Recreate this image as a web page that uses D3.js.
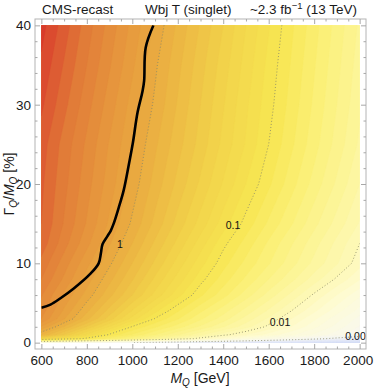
<!DOCTYPE html>
<html>
<head>
<meta charset="utf-8">
<script src="https://cdn.jsdelivr.net/npm/d3@7"></script>
<style>
  body { margin: 0; background: #fff; }
  text { font-family: "Liberation Sans", Arial, sans-serif; }
</style>
</head>
<body>
<div id="chart"></div>
<script>
const massGrid = [600, 700, 800, 900, 1000, 1100, 1200, 1300, 1400, 1500, 1600, 1700, 1800, 1900, 2000];
const widthGrid = [0, 0.5, 1, 2, 3, 4, 6, 8, 10, 12.5, 15, 20, 25, 30, 35, 40];
const logRatio = [
    [-2.60, -2.70, -2.80, -2.90, -3.00, -3.10, -3.20, -3.30, -3.40, -3.50, -3.60, -3.70, -3.80, -3.90, -4.00],
    [-0.64, -0.84, -1.05, -1.25, -1.46, -1.66, -1.87, -2.06, -2.23, -2.40, -2.57, -2.74, -2.91, -3.08, -3.25],
    [-0.10, -0.41, -0.72, -1.02, -1.21, -1.40, -1.59, -1.78, -1.96, -2.10, -2.24, -2.38, -2.52, -2.66, -2.80],
    [ 0.19, -0.11, -0.41, -0.71, -1.01, -1.18, -1.35, -1.52, -1.69, -1.86, -2.03, -2.20, -2.37, -2.54, -2.71],
    [ 0.40,  0.11, -0.17, -0.45, -0.74, -1.01, -1.19, -1.38, -1.55, -1.74, -1.92, -2.10, -2.28, -2.46, -2.64],
    [ 0.45,  0.18, -0.08, -0.34, -0.61, -0.87, -1.09, -1.28, -1.46, -1.64, -1.82, -2.00, -2.18, -2.36, -2.54],
    [ 0.51,  0.28,  0.06, -0.17, -0.40, -0.63, -0.86, -1.08, -1.26, -1.45, -1.64, -1.83, -2.02, -2.20, -2.38],
    [ 0.60,  0.38,  0.15, -0.07, -0.29, -0.52, -0.74, -0.96, -1.15, -1.32, -1.50, -1.67, -1.85, -2.02, -2.19],
    [ 0.67,  0.45,  0.23,  0.02, -0.20, -0.42, -0.64, -0.86, -1.06, -1.23, -1.39, -1.56, -1.73, -1.89, -2.06],
    [ 0.76,  0.54,  0.33,  0.11, -0.10, -0.32, -0.53, -0.75, -0.97, -1.14, -1.32, -1.49, -1.66, -1.83, -2.00],
    [ 0.80,  0.59,  0.39,  0.18, -0.02, -0.23, -0.44, -0.64, -0.85, -1.04, -1.22, -1.39, -1.57, -1.74, -1.91],
    [ 0.82,  0.63,  0.44,  0.25,  0.06, -0.14, -0.33, -0.52, -0.71, -0.90, -1.08, -1.26, -1.44, -1.62, -1.80],
    [ 0.85,  0.66,  0.48,  0.29,  0.11, -0.08, -0.26, -0.44, -0.63, -0.81, -1.00, -1.18, -1.36, -1.54, -1.72],
    [ 0.92,  0.73,  0.54,  0.35,  0.16, -0.02, -0.21, -0.40, -0.59, -0.78, -0.96, -1.14, -1.32, -1.50, -1.68],
    [ 0.98,  0.79,  0.60,  0.41,  0.22,  0.02, -0.17, -0.36, -0.55, -0.74, -0.93, -1.11, -1.29, -1.47, -1.65],
    [ 1.04,  0.85,  0.65,  0.46,  0.27,  0.08, -0.12, -0.31, -0.50, -0.70, -0.89, -1.08, -1.26, -1.44, -1.62]
];

// thick black exclusion line [mass, width]
const limitCurve = [
    [600, 4.4], [640, 4.8], [684, 5.6], [741, 6.8], [816, 8.7], [852, 10.0], [862, 11.3],
    [869, 12.4], [890, 13.4], [905, 14.1], [918, 15.0], [940, 17.0], [962, 19.2], [985, 22.5],
    [1002, 25.1], [1023, 29.0], [1045, 31.7], [1052, 33.0], [1059, 37.2], [1093, 40]
];

// dotted contours and where their labels sit
const contourLevels = [0, -1, -2, -3];
const contourNames = ["1", "0.1", "0.01", "0.001"];
const labelMass = [946, 1443, 1650, 1995];
const labelWidth = [12.4, 14.8, 2.6, 0.85];

const xTicks = [600, 800, 1000, 1200, 1400, 1600, 1800, 2000];
const yTicks = [0, 10, 20, 30, 40];
const xMinor = d3.range(600, 2001, 50).filter(d => d % 200 !== 0);
const yMinor = d3.range(0, 41, 2).filter(d => d % 10 !== 0);

const colorStops = [-4.2, -3.4, -2.8, -2.3, -1.8, -1.4, -1.0, -0.5, 0.0, 0.35, 0.65, 0.85, 1.05];
const colorList = ["#cdd8f5", "#e4e9f8", "#f8f8ef", "#fefbd6", "#fdf7a6", "#fbf17e",
                   "#f7e652", "#f1d049", "#eaac41", "#e6953d", "#e17c38", "#dd5c33", "#d83b2b"];

const W = 374, H = 388;
const svg = d3.select("#chart").append("svg")
    .attr("width", W)
    .attr("height", H);

const x = d3.scaleLinear().domain([572, 2028]).range([35, 366]);
const y = d3.scaleLinear().domain([-0.8, 40.8]).range([349, 19]);

const color = d3.scaleLinear().domain(colorStops).range(colorList).clamp(true);

// grid index -> data value
const xi = d3.scaleLinear().domain([0.5, massGrid.length - 0.5]).range([massGrid[0], massGrid[massGrid.length - 1]]);
const yi = d3.scaleLinear().domain(widthGrid.map((d, i) => i + 0.5)).range(widthGrid);

const gridPath = d3.geoPath(d3.geoTransform({
    point: function(px, py) { this.stream.point(x(xi(px)), y(yi(py))); }
}));

svg.append("clipPath").attr("id", "plotClip")
    .append("rect")
    .attr("x", x(600)).attr("y", y(40))
    .attr("width", x(2000) - x(600)).attr("height", y(0) - y(40));

svg.append("clipPath").attr("id", "frameClip")
    .append("rect")
    .attr("x", 35).attr("y", 19).attr("width", 331).attr("height", 330);

const flat = logRatio.flat();
const step = 0.1;
const thresholds = d3.range(-4.3, 1.2, step);
const contours = d3.contours()
    .size([massGrid.length, widthGrid.length])
    .thresholds(thresholds)(flat);

const field = svg.append("g").attr("clip-path", "url(#plotClip)");

field.selectAll("path.band")
    .data(contours)
    .enter()
    .append("path")
    .attr("class", "band")
    .attr("d", gridPath)
    .attr("fill", d => color(d.value + step / 2))
    .attr("stroke", d => color(d.value + step / 2))
    .attr("stroke-width", 0.3);

const levelGen = d3.contours().size([massGrid.length, widthGrid.length]);
field.selectAll("path.level")
    .data(contourLevels)
    .enter()
    .append("path")
    .attr("class", "level")
    .attr("d", d => gridPath(levelGen.contour(flat, d)))
    .attr("fill", "none")
    .attr("stroke", "#8a8a6a")
    .attr("stroke-width", 0.9)
    .attr("stroke-dasharray", "0.9 2.2");

field.append("path")
    .datum(limitCurve)
    .attr("d", d3.line().x(d => x(d[0])).y(d => y(d[1])).curve(d3.curveCatmullRom))
    .attr("fill", "none")
    .attr("stroke", "#000")
    .attr("stroke-width", 2.6);

svg.append("g").attr("clip-path", "url(#frameClip)")
    .selectAll("text")
    .data(contourNames)
    .enter()
    .append("text")
    .attr("x", (d, i) => x(labelMass[i]))
    .attr("y", (d, i) => y(labelWidth[i]))
    .attr("dy", "0.35em")
    .attr("text-anchor", "middle")
    .style("font-size", "10.5px")
    .attr("fill", "#111")
    .text(d => d);

// frame
svg.append("rect")
    .attr("x", 35).attr("y", 19).attr("width", 331).attr("height", 330)
    .attr("fill", "none")
    .attr("stroke", "#b4b4b4")
    .attr("stroke-width", 1);

function styleAxis(g) {
    g.select(".domain").remove();
    g.selectAll("line").attr("stroke", "#a8a8a8");
    g.selectAll("text")
        .attr("font-family", null)
        .style("font-size", "13.5px")
        .attr("fill", "#1a1a1a");
}

svg.append("g").attr("transform", "translate(0,349)")
    .call(d3.axisBottom(x).tickValues(xTicks).tickSize(-5).tickPadding(6).tickFormat(d3.format("d")))
    .call(styleAxis)
    .call(g => g.selectAll(".tick:last-of-type text").attr("dx", -2));
svg.append("g").attr("transform", "translate(0,349)")
    .call(d3.axisBottom(x).tickValues(xMinor).tickSize(-2.5).tickFormat(""))
    .call(styleAxis);
svg.append("g").attr("transform", "translate(0,19)")
    .call(d3.axisTop(x).tickValues(xTicks).tickSize(-5).tickFormat(""))
    .call(styleAxis);
svg.append("g").attr("transform", "translate(0,19)")
    .call(d3.axisTop(x).tickValues(xMinor).tickSize(-2.5).tickFormat(""))
    .call(styleAxis);

svg.append("g").attr("transform", "translate(35,0)")
    .call(d3.axisLeft(y).tickValues(yTicks).tickSize(-5).tickPadding(4))
    .call(styleAxis);
svg.append("g").attr("transform", "translate(35,0)")
    .call(d3.axisLeft(y).tickValues(yMinor).tickSize(-2.5).tickFormat(""))
    .call(styleAxis);
svg.append("g").attr("transform", "translate(366,0)")
    .call(d3.axisRight(y).tickValues(yTicks).tickSize(-5).tickFormat(""))
    .call(styleAxis);
svg.append("g").attr("transform", "translate(366,0)")
    .call(d3.axisRight(y).tickValues(yMinor).tickSize(-2.5).tickFormat(""))
    .call(styleAxis);

// titles
const titleG = svg.append("g").style("font-size", "13.5px").attr("fill", "#1a1a1a");
titleG.append("text").attr("x", 42).attr("y", 14).text("CMS-recast");
titleG.append("text").attr("x", 145).attr("y", 14).text("Wbj T (singlet)");
const lumi = titleG.append("text").attr("x", 357).attr("y", 14).attr("text-anchor", "end");
lumi.append("tspan").text("~2.3 fb");
lumi.append("tspan").attr("dy", -5).style("font-size", "9.5px").text("\u22121");
lumi.append("tspan").attr("dy", 5).text(" (13 TeV)");

// axis labels
const xLab = svg.append("text")
    .attr("x", 200).attr("y", 383)
    .attr("text-anchor", "middle")
    .style("font-size", "14px")
    .attr("fill", "#1a1a1a");
xLab.append("tspan").style("font-style", "italic").text("M");
xLab.append("tspan").attr("dy", 3).style("font-size", "10px").style("font-style", "italic").text("Q");
xLab.append("tspan").attr("dy", -3).text(" [GeV]");

const yLab = svg.append("text")
    .attr("transform", "translate(14,184) rotate(-90)")
    .attr("text-anchor", "middle")
    .style("font-size", "14px")
    .attr("fill", "#1a1a1a");
yLab.append("tspan").text("\u0393");
yLab.append("tspan").attr("dy", 3).style("font-size", "10px").style("font-style", "italic").text("Q");
yLab.append("tspan").attr("dy", -3).text("/");
yLab.append("tspan").style("font-style", "italic").text("M");
yLab.append("tspan").attr("dy", 3).style("font-size", "10px").style("font-style", "italic").text("Q");
yLab.append("tspan").attr("dy", -3).text(" [%]");
</script>
</body>
</html>
